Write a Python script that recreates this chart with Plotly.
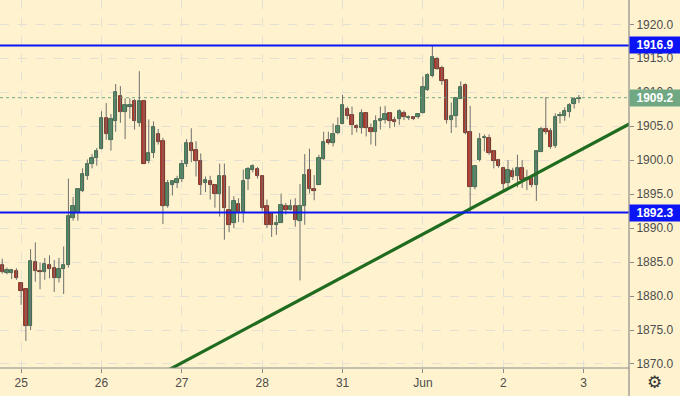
import plotly.graph_objects as go

# ---- data (hourly-like candles) ----
opens = [1884.5,1883.4,1883.4,1883.7,1881.9,1881.0,1875.6,1885.0,1883.7,1883.6,
         1884.5,1884.1,1882.7,1884.0,1884.5,1891.5,1892.3,1895.5,1897.7,1899.4,
         1900.3,1901.6,1906.2,1903.0,1905.8,1909.5,1907.1,1907.9,1908.7,1905.5,
         1908.7,1899.9,1901.0,1903.8,1902.8,1893.3,1896.4,1896.6,1897.2,1899.5,
         1902.5,1901.5,1899.9,1896.6,1896.9,1896.4,1895.0,1897.7,1892.7,1890.7,
         1893.5,1892.4,1897.2,1898.5,1898.7,1897.7,1893.3,1892.2,1890.4,1890.8,
         1893.3,1892.6,1893.3,1891.0,1893.2,1898.5,1895.8,1896.4,1900.2,1902.9,
         1902.5,1904.0,1905.3,1907.6,1906.6,1905.1,1904.8,1906.9,1904.7,1904.2,
         1905.7,1905.9,1906.9,1905.9,1906.0,1907.0,1906.2,1906.3,1906.3,1906.9,
         1910.4,1912.4,1914.9,1913.5,1911.8,1905.9,1906.5,1909.0,1911.0,1904.2,
         1896.0,1900.1,1903.2,1903.2,1901.3,1900.0,1898.9,1896.6,1898.4,1897.6,
         1898.9,1897.1,1897.4,1896.3,1901.2,1904.6,1904.3,1902.1,1906.5,1906.5,
         1907.1,1908.3,1909.0]
highs = [1885.5,1884.2,1884.0,1884.1,1882.0,1881.0,1886.9,1887.9,1884.9,1885.6,
         1886.0,1885.3,1885.6,1887.3,1897.3,1894.6,1895.9,1898.8,1900.1,1900.9,
         1901.8,1907.2,1908.4,1906.8,1911.2,1910.9,1909.1,1909.1,1909.0,1913.1,
         1908.9,1906.0,1905.7,1904.6,1903.3,1897.1,1897.0,1897.7,1900.0,1903.1,
         1904.7,1902.8,1901.0,1897.6,1897.7,1896.4,1899.5,1899.5,1896.2,1894.7,
         1894.4,1898.6,1899.0,1899.4,1899.0,1897.7,1894.2,1892.2,1891.9,1895.1,
         1893.7,1894.2,1894.4,1896.5,1900.9,1901.7,1897.8,1900.8,1904.2,1904.2,
         1905.4,1906.3,1909.6,1907.9,1907.9,1905.3,1907.5,1907.0,1905.4,1906.6,
         1907.9,1908.0,1907.1,1906.4,1907.5,1907.3,1906.6,1906.5,1906.9,1912.3,
         1912.8,1916.9,1915.2,1913.9,1911.9,1908.5,1909.3,1911.6,1911.3,1908.0,
         1899.3,1904.0,1903.8,1903.8,1901.5,1900.2,1898.9,1900.0,1898.9,1900.8,
         1900.0,1898.6,1897.7,1901.4,1904.9,1909.3,1904.7,1906.9,1907.1,1907.8,
         1908.4,1909.3,1909.6]
lows = [1883.3,1883.2,1882.5,1882.4,1878.7,1873.4,1875.0,1882.1,1881.0,1882.4,
        1882.6,1880.6,1882.0,1880.3,1884.2,1891.1,1891.1,1895.3,1897.1,1898.8,
        1899.2,1901.6,1903.0,1901.4,1904.2,1905.5,1903.1,1906.1,1904.5,1904.9,
        1899.5,1899.5,1900.3,1902.3,1890.6,1893.0,1894.8,1895.9,1896.8,1899.0,
        1899.7,1897.6,1894.9,1895.3,1894.2,1893.0,1891.7,1888.3,1889.4,1890.0,
        1890.9,1890.8,1895.6,1898.2,1897.3,1892.5,1890.0,1888.7,1889.0,1890.8,
        1892.0,1892.6,1890.2,1882.3,1890.5,1895.1,1894.1,1896.4,1900.0,1902.3,
        1902.0,1903.8,1905.3,1906.0,1903.7,1904.1,1903.9,1903.5,1902.3,1902.1,
        1904.5,1905.4,1904.7,1904.9,1905.2,1905.9,1905.9,1905.9,1906.1,1906.9,
        1910.2,1912.2,1913.3,1911.1,1905.4,1904.0,1904.8,1909.0,1903.8,1892.3,
        1895.7,1899.8,1901.3,1900.8,1898.8,1898.9,1895.4,1896.1,1897.1,1896.0,
        1895.9,1895.6,1896.0,1894.0,1901.2,1903.8,1901.7,1901.8,1905.4,1905.8,
        1906.3,1907.6,1908.4]
closes = [1883.5,1883.8,1883.8,1882.6,1880.7,1875.6,1885.1,1883.7,1883.5,1884.7,
          1884.0,1882.7,1884.0,1884.5,1891.8,1893.3,1895.7,1898.0,1899.5,1900.3,
          1901.3,1906.2,1903.8,1906.0,1910.0,1907.1,1908.1,1908.1,1905.8,1908.7,
          1899.5,1901.0,1904.9,1902.7,1893.3,1896.7,1897.0,1897.2,1899.5,1902.6,
          1901.3,1899.9,1896.4,1897.1,1896.4,1895.0,1897.7,1893.0,1890.4,1894.0,
          1892.4,1896.9,1898.7,1899.2,1897.6,1893.0,1890.4,1890.4,1890.8,1893.4,
          1892.6,1893.2,1891.2,1893.3,1897.8,1895.7,1895.5,1900.3,1902.7,1902.5,
          1903.9,1905.0,1908.1,1906.5,1905.2,1904.7,1906.9,1904.8,1904.2,1905.8,
          1906.0,1906.8,1905.8,1905.6,1907.3,1906.3,1906.4,1906.1,1906.8,1910.8,
          1912.5,1915.2,1913.4,1911.7,1905.9,1906.5,1909.2,1910.8,1904.0,1896.0,
          1899.1,1903.1,1903.4,1901.0,1899.9,1899.1,1896.5,1898.6,1897.5,1898.9,
          1897.1,1897.4,1896.3,1901.4,1904.6,1904.1,1902.0,1906.3,1906.7,1907.3,
          1908.1,1909.0,1909.2]

day_labels = ["25", "26", "27", "28", "31", "Jun", "2", "3"]
day_candle_index = [4, 21, 38, 55, 72, 89, 106, 123]

resistance = 1916.9
support = 1892.3
last_price = 1909.2

trend_index = [30, 133]
trend_price = [1867.2, 1905.45]

y_min, y_max = 1869.41, 1923.58
x_min, x_max = -0.47, 132.6

# ---- styling ----
BG = "#FFF3CF"
GRID = "#E4E0D4"
GREEN = "#4E9468"
RED = "#BF3A2C"
GREEN_EDGE = "#24503A"
RED_EDGE = "#5C1A12"
WICK = "#6E6E6E"
FONT = "Liberation Sans"

idx = list(range(len(opens)))

wx, wy = [], []
for i in idx:
    wx += [i, i, None]
    wy += [lows[i], highs[i], None]

fills = [GREEN if closes[i] >= opens[i] else RED for i in idx]
edges = [GREEN_EDGE if closes[i] >= opens[i] else RED_EDGE for i in idx]
heights = [closes[i] - opens[i] for i in idx]

fig = go.Figure()

# last price dotted line
fig.add_trace(go.Scatter(x=[x_min, x_max], y=[last_price, last_price], mode="lines",
                         line=dict(color="#6FA883", width=1, dash="dot"),
                         hoverinfo="skip", showlegend=False))

fig.add_trace(go.Scatter(x=wx, y=wy, mode="lines", line=dict(color=WICK, width=1),
                         hoverinfo="skip", showlegend=False))
fig.add_trace(go.Bar(x=idx, y=heights, base=opens, width=0.72,
                     marker=dict(color=fills, line=dict(color=edges, width=0.8)),
                     showlegend=False))

# trend line
fig.add_trace(go.Scatter(x=trend_index, y=trend_price, mode="lines",
                         line=dict(color="#1F6B1F", width=3.2),
                         hoverinfo="skip", showlegend=False))

shapes = []
for lvl in (resistance, support):
    shapes.append(dict(type="line", xref="paper", yref="y", x0=0, x1=1, y0=lvl, y1=lvl,
                       line=dict(color="#0A14F5", width=2), layer="above"))
# axis separators
shapes.append(dict(type="line", xref="paper", yref="paper", x0=1, x1=1, y0=-0.08, y1=1,
                   line=dict(color="#8C8C8C", width=1.2), layer="above"))
shapes.append(dict(type="line", xref="paper", yref="paper", x0=0, x1=1, y0=0, y1=0,
                   line=dict(color="#8C8C8C", width=1.2), layer="above"))

annotations = []
for lvl, col in ((resistance, "#0A14F5"), (support, "#0A14F5"), (last_price, "#6FA883")):
    annotations.append(dict(xref="paper", yref="y", x=1, y=lvl, xanchor="left", yanchor="middle",
                            text=f"<b>{lvl:.1f}</b>", showarrow=False, bgcolor=col,
                            font=dict(color="white", size=12, family=FONT),
                            width=46, height=12, borderpad=2, align="center"))
annotations.append(dict(xref="paper", yref="paper", x=1.0413, y=-0.038, text="⚙",
                        showarrow=False, font=dict(size=17, color="#333333", family="DejaVu Sans"),
                        xanchor="center", yanchor="middle"))
fig.update_layout(
    width=680, height=396,
    margin=dict(l=0, r=51, t=0, b=28, autoexpand=False),
    paper_bgcolor=BG, plot_bgcolor=BG,
    bargap=0, showlegend=False, hovermode=False,
    shapes=shapes, annotations=annotations,
    font=dict(family=FONT, size=11, color="#4D4D4D"),
    xaxis=dict(range=[x_min, x_max], tickvals=day_candle_index, ticktext=day_labels,
               showgrid=True, gridcolor=GRID, griddash="dash", gridwidth=1,
               zeroline=False, ticks="outside", ticklen=4, tickcolor="#8C8C8C",
               tickfont=dict(size=12, color="#4D4D4D"), automargin=False,
               showline=False),
    yaxis=dict(range=[y_min, y_max], side="right", dtick=5, tick0=1870, tickformat=".1f",
               showgrid=True, gridcolor=GRID, griddash="dash", gridwidth=1,
               zeroline=False, ticks="outside", ticklen=4, tickcolor="#8C8C8C",
               tickfont=dict(size=12, color="#4D4D4D"), automargin=False, showline=False),
)

fig.write_html("out.html", config={"displayModeBar": False},
               post_script="document.body.style.margin='0';document.body.style.background='#FFF3CF';")
